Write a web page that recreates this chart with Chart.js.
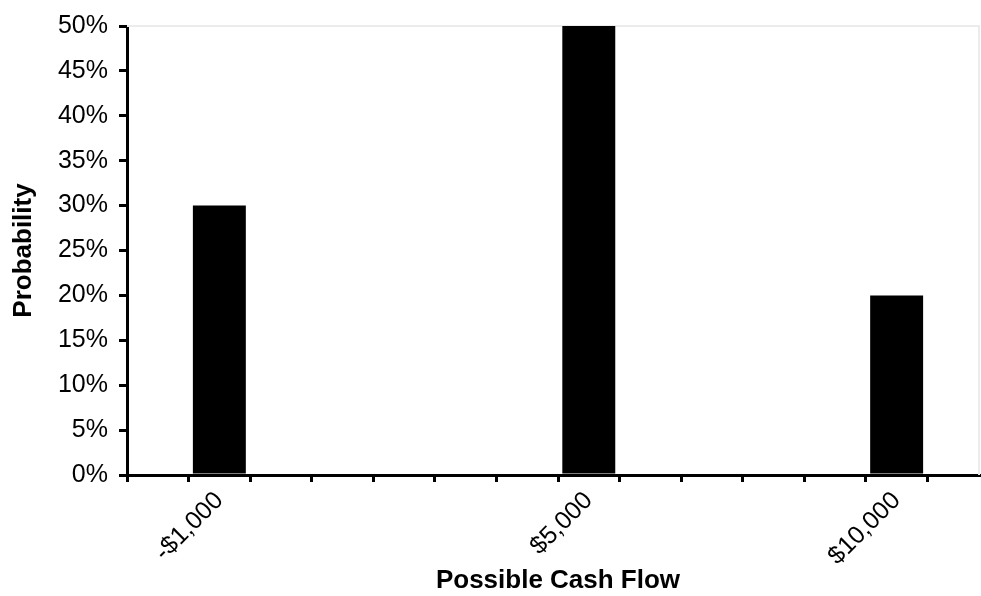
<!DOCTYPE html>
<html>
<head>
<meta charset="utf-8">
<script src="https://cdn.jsdelivr.net/npm/chart.js@4/dist/chart.umd.min.js"></script>
<style>
  html, body { margin: 0; padding: 0; background: #fff; overflow: hidden; }
  #wrap { width: 981px; height: 596px; overflow: hidden; }
</style>
</head>
<body>
<div id="wrap"><canvas id="myChart" width="990" height="596"></canvas></div>
<script>
// cash flow categories, -2000 .. 11000 in steps of 1000; only three are labelled
const cashFlows = ['', '-$1,000', '', '', '', '', '', '$5,000', '', '', '', '', '$10,000', ''];
const probabilities = [null, 0.30, null, null, null, null, null, 0.50, null, null, null, null, 0.20, null];
const yTicks = [0, 0.05, 0.10, 0.15, 0.20, 0.25, 0.30, 0.35, 0.40, 0.45, 0.50];

const plotFrame = {
  id: 'plotFrame',
  beforeDatasetsDraw(chart) {
    const a = chart.chartArea;
    const c = chart.ctx;
    c.save();
    c.strokeStyle = '#ececec';
    c.lineWidth = 2;
    c.beginPath();
    c.moveTo(a.left, a.top);
    c.lineTo(979, a.top);
    c.lineTo(979, a.bottom);
    c.stroke();
    c.restore();
  }
};

function renderChart() {
  const ctx = document.getElementById('myChart');
  Chart.defaults.font.family = '"Liberation Sans", Arial, sans-serif';
  Chart.defaults.font.size = 25;
  Chart.defaults.color = 'rgb(0, 0, 0)';
  new Chart(ctx, {
    type: 'bar',
    data: {
      labels: cashFlows,
      datasets: [{
        data: probabilities,
        backgroundColor: '#000',
        borderWidth: 0,
        barPercentage: 0.86,
        categoryPercentage: 1
      }]
    },
    options: {
      responsive: false,
      animation: false,
      layout: { padding: { top: 25, right: 1, left: 8, bottom: 0 } },
      scales: {
        x: {
          offset: true,
          afterFit(axis) { axis.height = 121; },
          grid: {
            offset: true,
            drawOnChartArea: false,
            drawTicks: true,
            tickLength: 7,
            color: '#000',
            lineWidth: 3
          },
          border: { color: '#000', width: 3 },
          ticks: {
            autoSkip: false,
            maxRotation: 45,
            minRotation: 45,
            padding: 4,
            font: { size: 25 }
          },
          title: {
            display: true,
            text: 'Possible Cash Flow',
            font: { size: 26, weight: 'bold' },
            padding: { top: 0, bottom: 0 }
          }
        },
        y: {
          min: 0,
          max: 0.5,
          afterFit(axis) { axis.width = 119; },
          afterBuildTicks(axis) {
            axis.ticks = yTicks.map(v => ({ value: v }));
          },
          grid: {
            drawOnChartArea: false,
            drawTicks: true,
            tickLength: 8,
            color: '#000',
            lineWidth: 3
          },
          border: { color: '#000', width: 3 },
          ticks: {
            padding: 11,
            font: { size: 25 },
            callback: v => Math.round(v * 100) + '%'
          },
          title: {
            display: true,
            text: 'Probability',
            font: { size: 26, weight: 'bold' },
            padding: { top: 0, bottom: 0 }
          }
        }
      },
      plugins: {
        legend: { display: false },
        tooltip: { enabled: false }
      }
    },
    plugins: [plotFrame]
  });
}
renderChart();
</script>
</body>
</html>
